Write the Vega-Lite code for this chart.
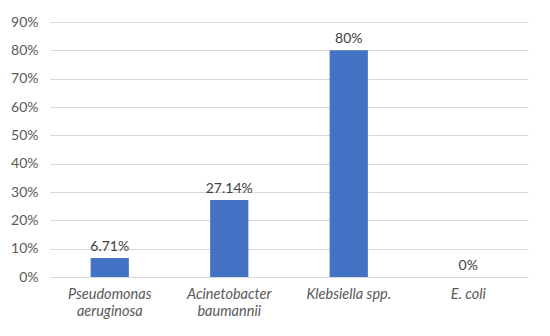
{
  "$schema": "https://vega.github.io/schema/vega-lite/v6.json",
  "width": 478,
  "height": 255,
  "autosize": {"type": "none"},
  "padding": {"left": 50, "top": 22, "right": 22, "bottom": 59},
  "background": "white",
  "config": {"view": {"stroke": null}, "font": "Lato"},
  "data": {"values": [
    {"organism": "Pseudomonas aeruginosa", "value": 0.0671, "label": "6.71%"},
    {"organism": "Acinetobacter baumannii", "value": 0.2714, "label": "27.14%"},
    {"organism": "Klebsiella spp.", "value": 0.80, "label": "80%"},
    {"organism": "E. coli", "value": 0.0, "label": "0%"}
  ]},
  "encoding": {
    "x": {
      "field": "organism", "type": "nominal", "sort": null,
      "scale": {"paddingInner": 0.68, "paddingOuter": 0.34},
      "axis": {
        "title": null, "labelAngle": 0, "ticks": false,
        "domainColor": "#d9d9d9", "labelColor": "#595959", "labelFontSize": 14.5,
        "labelFontStyle": "italic", "labelPadding": 10, "labelLineHeight": 17,
        "labelExpr": "datum.value == 'Pseudomonas aeruginosa' ? ['Pseudomonas', 'aeruginosa'] : datum.value == 'Acinetobacter baumannii' ? ['Acinetobacter', 'baumannii'] : datum.value"
      }
    },
    "y": {
      "field": "value", "type": "quantitative",
      "scale": {"domain": [0, 0.9]},
      "axis": {
        "title": null, "format": ".0%", "values": [0, 0.1, 0.2, 0.3, 0.4, 0.5, 0.6, 0.7, 0.8, 0.9],
        "domain": false, "ticks": false, "gridColor": "#d9d9d9",
        "labelColor": "#595959", "labelFontSize": 14, "labelPadding": 12
      }
    }
  },
  "layer": [
    {"mark": {"type": "bar", "color": "#4472C4"}},
    {"mark": {"type": "text", "dy": -11, "fontSize": 14, "color": "#404040"},
     "encoding": {"text": {"field": "label"}}}
  ]
}
